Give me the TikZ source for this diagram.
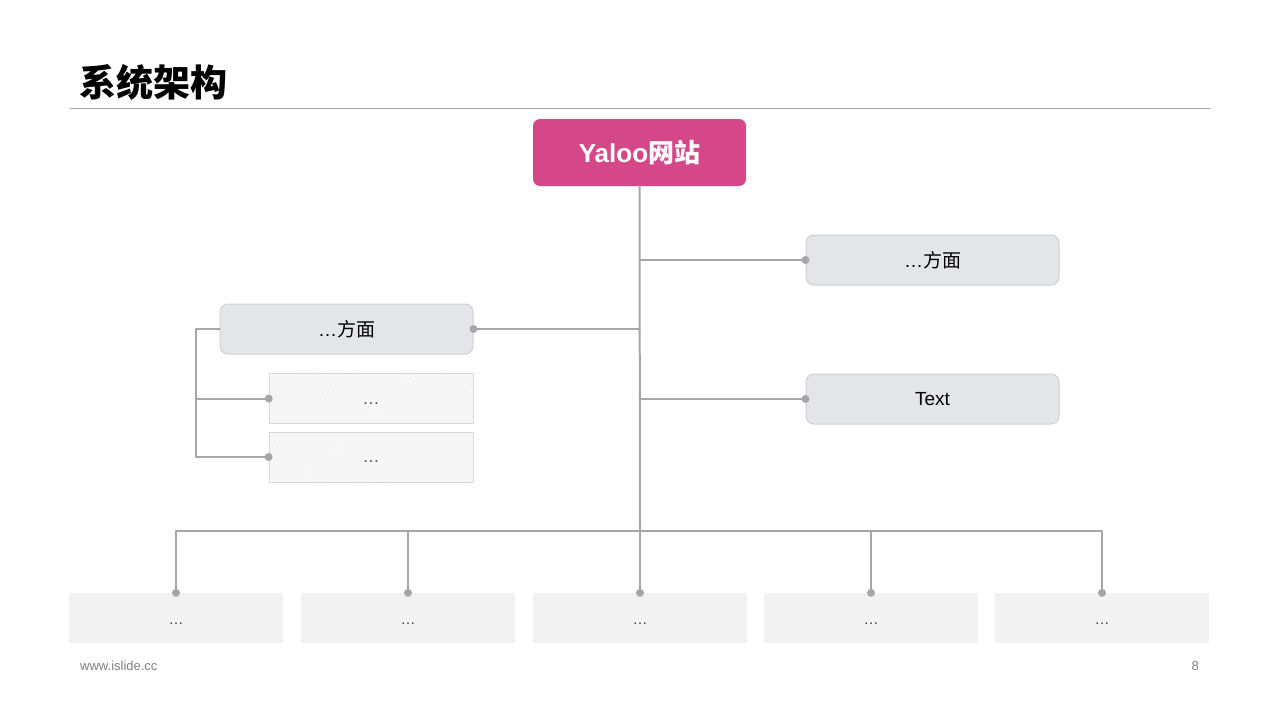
\documentclass[tikz,border=0pt]{standalone}
\usepackage{fontspec}
\setmainfont{Liberation Sans}
\newfontfamily\cjk{Noto Sans CJK SC}
\usetikzlibrary{positioning,patterns.meta}
\definecolor{ysPink}{HTML}{D4488A}
\definecolor{ysLine}{HTML}{A6A6A6}
\definecolor{ysBox}{HTML}{E4E5E9}
\definecolor{ysBoxEdge}{HTML}{CDCED2}
\definecolor{ysLeaf}{HTML}{F2F2F2}
\definecolor{ysHatch}{HTML}{F8F8F8}
\definecolor{ysFoot}{HTML}{7F7F7F}
\tikzset{
 arch/.style={x=1pt,y=-1pt,line cap=round,line join=round},
 root/.style={rectangle,rounded corners=7pt,fill=ysPink,text=white,inner sep=0pt,
   font=\fontsize{26}{30}\selectfont\bfseries,minimum width=213pt,minimum height=67pt},
 aspect/.style={rectangle,rounded corners=8pt,draw=ysBoxEdge,fill=ysBox,line width=1pt,
   inner sep=0pt,minimum width=253pt,minimum height=50pt,font=\fontsize{19}{22}\selectfont},
 sub/.style={rectangle,draw=ysBoxEdge!80,line width=.8pt,preaction={fill=ysHatch},
   pattern={Lines[angle=45,distance=3pt,line width=.5pt]},pattern color=ysLine!18,
   inner sep=0pt,minimum width=204pt,minimum height=50pt,text height=11pt,text depth=0pt,
   font=\fontsize{17}{20}\selectfont,text=black!70},
 leaf/.style={rectangle,fill=ysLeaf,inner sep=0pt,minimum width=214pt,minimum height=50pt,
   text height=12pt,text depth=0pt,font=\fontsize{15}{18}\selectfont,text=black!75},
 link/.style={draw=ysLine,line width=2pt},
 dot/.style={circle,fill=ysLine,inner sep=0pt,minimum size=8pt},
 foot/.style={font=\fontsize{13}{15}\selectfont,text=ysFoot}
}
\begin{document}
\begin{tikzpicture}[arch]
 \useasboundingbox (0,0) rectangle (1280,720);
 % heading
 \node[anchor=west,font=\cjk\fontsize{37}{42}\selectfont\bfseries,inner sep=0pt] (title) at (79,82) {系统架构};
 \coordinate (ruleL) at (70,108); \coordinate (ruleR) at (1210,108);
 \draw[draw=ysLine,line width=1pt] (ruleL) -- (ruleR);
 % tree
 \node[root] (site) at (639.5,152.5) {Yaloo{\cjk 网站}};
 \node[aspect] (asp1) at (932.5,260) {…{\cjk 方面}};
 \node[aspect] (asp2) at (932.5,399) {Text};
 \node[aspect] (asp3) at (346.5,329) {…{\cjk 方面}};
 \node[sub] (sub1) at (371,398.5) {…};
 \node[sub] (sub2) at (371,457) {…};
 \foreach \i/\x in {1/176,2/408,3/640,4/871,5/1102}
   \node[leaf] (leaf\i) at (\x,618) {…};
 \coordinate (bus) at (640,531); \coordinate (brk) at (196,0);
 \draw[link] (site.south) -- (bus);
 \draw[link] (asp1.west -| site.south) -- (asp1.west);
 \draw[link] (asp2.west -| site.south) -- (asp2.west);
 \draw[link] (asp3.east -| site.south) -- (asp3.east);
 \draw[link] (asp3.west) -| (brk |- sub2.west) -- (sub2.west);
 \draw[link] (brk |- sub1.west) -- (sub1.west);
 \draw[link] (leaf1.north) -- (bus -| leaf1.north) -- (bus -| leaf5.north) -- (leaf5.north);
 \foreach \i in {2,3,4} \draw[link] (bus -| leaf\i.north) -- (leaf\i.north);
 \foreach \n in {asp1.west,asp2.west,asp3.east,sub1.west,sub2.west}
   \node[dot] at (\n) {};
 \foreach \i in {1,...,5} \node[dot] at (leaf\i.north) {};
 % footer
 \node[foot,anchor=west,inner sep=0pt] (web) at (80,666) {www.islide.cc};
 \node[foot,anchor=east,inner sep=0pt] (page) at (1199,666) {8};
\end{tikzpicture}
\end{document}
